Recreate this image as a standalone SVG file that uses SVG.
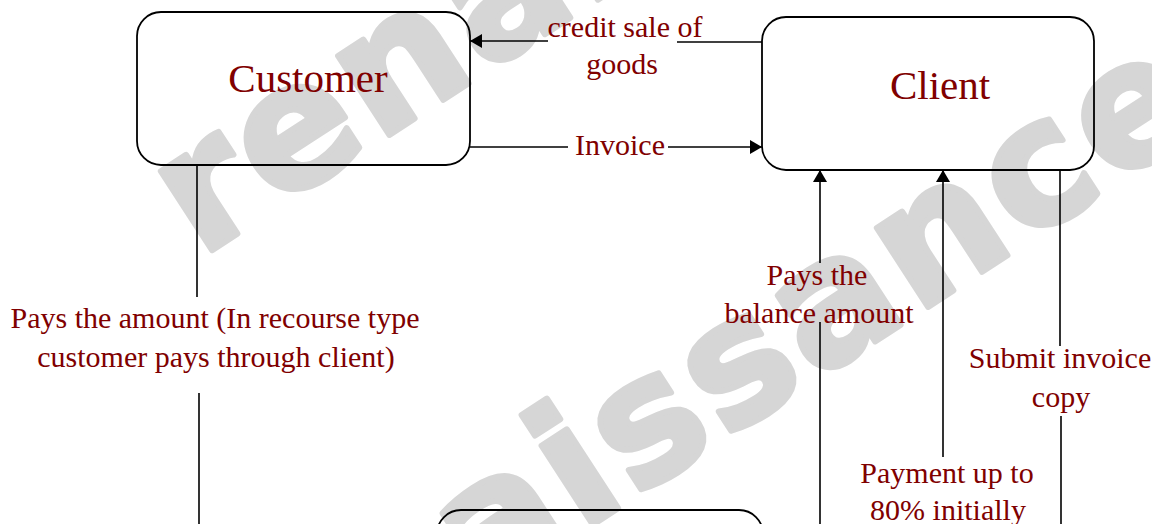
<svg xmlns="http://www.w3.org/2000/svg" width="1152" height="524" viewBox="0 0 1152 524">
<style>
.wm{font-family:"DejaVu Sans",sans-serif;font-weight:bold;font-size:172px;letter-spacing:5px;fill:#d6d6d6;stroke:#d6d6d6;stroke-width:6;stroke-linejoin:round}
.box{fill:none;stroke:#000;stroke-width:1.8}
.ln{fill:none;stroke:#000;stroke-width:1.6}
.lbl{font-family:"Liberation Serif","Times New Roman",serif;font-size:30px;fill:#800000;text-anchor:middle}
.ttl{font-family:"Liberation Serif","Times New Roman",serif;font-size:41px;fill:#800000;text-anchor:middle}
</style>
<defs>
<marker id="ah" viewBox="0 0 12 14" refX="12" refY="7" markerWidth="12" markerHeight="14" markerUnits="userSpaceOnUse" orient="auto">
<path d="M0,0 L12,7 L0,14 Z" fill="#000"/>
</marker>
</defs>
<rect width="1152" height="524" fill="#fff"/>
<g id="watermark">
<text class="wm" transform="translate(200,258) rotate(-33)">renaissance</text>
<text class="wm" transform="translate(195,783) rotate(-33)">renaissance</text>
</g>
<g id="customer">
<rect class="box" x="137" y="12" width="333" height="153" rx="24"/>
<text class="ttl" x="308" y="92">Customer</text>
</g>
<g id="client">
<rect class="box" x="762" y="17" width="332" height="153" rx="24"/>
<text class="ttl" x="940" y="99">Client</text>
</g>
<g id="bottom-node">
<rect class="box" x="437" y="510" width="326" height="120" rx="24"/>
</g>
<g id="connectors">
<path class="ln" d="M762,42 H677"/>
<path class="ln" d="M548,41 H470" marker-end="url(#ah)"/>
<path class="ln" d="M470,147 H568"/>
<path class="ln" d="M668,147 H762" marker-end="url(#ah)"/>
<path class="ln" d="M197,165 V297"/>
<path class="ln" d="M199,393 V524"/>
<path class="ln" d="M820,263 V170" marker-end="url(#ah)"/>
<path class="ln" d="M820,322 V524"/>
<path class="ln" d="M943,457 V170" marker-end="url(#ah)"/>
<path class="ln" d="M1060,170 V346"/>
<path class="ln" d="M1061,416 V524"/>
</g>
<g id="labels">
<text class="lbl" x="625" y="37">credit sale of</text>
<text class="lbl" x="622" y="74">goods</text>
<text class="lbl" x="620" y="155">Invoice</text>
<text class="lbl" x="215" y="328">Pays the amount (In recourse type</text>
<text class="lbl" x="216" y="367">customer pays through client)</text>
<text class="lbl" x="817" y="285">Pays the</text>
<text class="lbl" x="819" y="323">balance amount</text>
<text class="lbl" x="1060" y="368">Submit invoice</text>
<text class="lbl" x="1061" y="407">copy</text>
<text class="lbl" x="947" y="483">Payment up to</text>
<text class="lbl" x="948" y="520">80% initially</text>
</g>
</svg>
